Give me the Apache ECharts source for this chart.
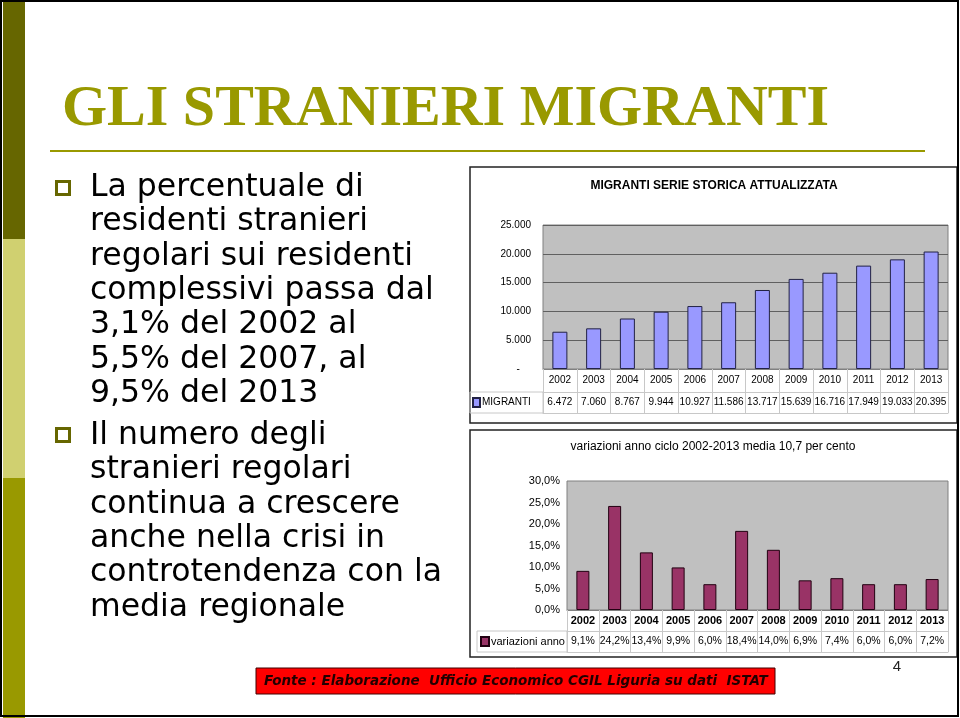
<!DOCTYPE html>
<html><head><meta charset="utf-8">
<script src="https://cdn.jsdelivr.net/npm/echarts@6/dist/echarts.min.js"></script>
<style>html,body{margin:0;padding:0;background:#fff}#c{width:960px;height:718px}</style>
</head><body><div id="c"></div>
<script>
var years = ['2002','2003','2004','2005','2006','2007','2008','2009','2010','2011','2012','2013'];
var migranti = [6472, 7060, 8767, 9944, 10927, 11586, 13717, 15639, 16716, 17949, 19033, 20395];
var variazioni = [9.1, 24.2, 13.4, 9.9, 6.0, 18.4, 14.0, 6.9, 7.4, 6.0, 6.0, 7.2];
var migrantiTicks = [0, 5000, 10000, 15000, 20000, 25000];
var variazioniTicks = [0, 5, 10, 15, 20, 25, 30];
var slideTitle = 'GLI STRANIERI MIGRANTI';
var bullet1 = ['La percentuale di','residenti stranieri','regolari sui residenti','complessivi passa dal','3,1% del 2002 al','5,5% del 2007, al','9,5% del 2013'];
var bullet2 = ['Il numero degli','stranieri regolari','continua a crescere','anche nella crisi in','controtendenza con la','media regionale'];
var chart1Title = 'MIGRANTI SERIE STORICA ATTUALIZZATA';
var chart2Title = 'variazioni anno ciclo 2002-2013 media 10,7 per cento';
var fonte = 'Fonte : Elaborazione  Ufficio Economico CGIL Liguria su dati  ISTAT';
var pageNum = '4';

function itNum(v){ return String(v).replace(/\B(?=(\d{3})+(?!\d))/g, '.'); }
function itPct(v){ return v.toFixed(1).replace('.', ',') + '%'; }

var SANS = 'Liberation Sans, Arial, sans-serif';
var graphics = [
  {type:'rect', shape:{x:3,y:0,width:22,height:239}, style:{fill:'#666600'}, silent:true},
  {type:'rect', shape:{x:3,y:239,width:22,height:239}, style:{fill:'#d0d070'}, silent:true},
  {type:'rect', shape:{x:3,y:478,width:22,height:240}, style:{fill:'#999900'}, silent:true},
  {type:'rect', shape:{x:1,y:1,width:957,height:715}, style:{fill:null, stroke:'#000', lineWidth:2}, silent:true},
  {type:'text', x:62, y:110, style:{text:slideTitle, font:'bold 58px "Liberation Serif", serif', fill:'#999900', verticalAlign:'middle'}},
  {type:'line', shape:{x1:50,y1:151,x2:925,y2:151}, style:{stroke:'#999900', lineWidth:2}},
  {type:'rect', shape:{x:56.5,y:181.5,width:13,height:13}, style:{fill:'#fff', stroke:'#666600', lineWidth:3}},
  {type:'rect', shape:{x:56.5,y:428.5,width:13,height:13}, style:{fill:'#fff', stroke:'#666600', lineWidth:3}},
  // chart boxes
  {type:'rect', shape:{x:470,y:167,width:487,height:256}, style:{fill:null, stroke:'#222', lineWidth:1.5}, z:-1},
  {type:'rect', shape:{x:470,y:430,width:487,height:227}, style:{fill:null, stroke:'#222', lineWidth:1.5}, z:-1},
  {type:'text', x:714, y:186, style:{text:chart1Title, font:'bold 12px '+SANS, fill:'#000', align:'center', verticalAlign:'middle'}},
  {type:'text', x:713, y:447, style:{text:chart2Title, font:'12px '+SANS, fill:'#000', align:'center', verticalAlign:'middle'}},
  // legend cells of data tables
  {type:'rect', shape:{x:470,y:392,width:73,height:21}, style:{fill:null, stroke:'#c8c8c8', lineWidth:1}},
  {type:'rect', shape:{x:477,y:631,width:90,height:21}, style:{fill:null, stroke:'#c8c8c8', lineWidth:1}},
  // footer
  {type:'rect', shape:{x:256,y:668,width:519,height:26}, style:{fill:'#ff0000', stroke:'#400000', lineWidth:1}},
  {type:'text', x:264, y:681, style:{text:fonte, font:'italic bold 13.5px "DejaVu Sans", sans-serif', fill:'#220000', verticalAlign:'middle'}},
  {type:'text', x:897, y:667, style:{text:pageNum, font:'15px '+SANS, fill:'#222', align:'center', verticalAlign:'middle'}}
];
bullet1.forEach(function(t,i){ graphics.push({type:'text', x:90, y:188+34.3*i, style:{text:t, font:'31.5px "DejaVu Sans", sans-serif', fill:'#000', verticalAlign:'middle'}}); });
bullet2.forEach(function(t,i){ graphics.push({type:'text', x:90, y:436+34.3*i, style:{text:t, font:'31.5px "DejaVu Sans", sans-serif', fill:'#000', verticalAlign:'middle'}}); });

var ch = echarts.init(document.getElementById('c'), null, {renderer:'canvas'});
ch.setOption({
  animation:false,
  backgroundColor:'#fff',
  textStyle:{fontFamily:SANS},
  graphic:graphics,
  legend:[
    {data:['MIGRANTI'], left:472, top:397, orient:'horizontal', icon:'rect', itemWidth:7, itemHeight:9, itemGap:2, selectedMode:false, padding:0, textStyle:{fontSize:10, color:'#000', padding:[0,0,0,-3]}},
    {data:['variazioni anno'], left:480, top:636, orient:'horizontal', icon:'rect', itemWidth:8, itemHeight:9, selectedMode:false, padding:0, textStyle:{fontSize:11, color:'#000', padding:[0,0,0,-3]}}
  ],
  grid:[
    {left:543, top:225, width:405, height:144, show:true, backgroundColor:'#c0c0c0', borderColor:'#808080', borderWidth:1},
    {left:567, top:481, width:381, height:129, show:true, backgroundColor:'#c0c0c0', borderColor:'#808080', borderWidth:1}
  ],
  xAxis:[
    {gridIndex:0, type:'category', data:years, position:'bottom',
     axisLine:{lineStyle:{color:'#808080'}}, axisTick:{show:true, interval:0, length:44, lineStyle:{color:'#c8c8c8'}},
     axisLabel:{interval:0, fontSize:10, color:'#000', margin:6}},
    {gridIndex:0, type:'category', data:years, position:'bottom', offset:23,
     axisLine:{lineStyle:{color:'#c8c8c8'}}, axisTick:{show:false},
     axisLabel:{interval:0, fontSize:10, color:'#000', margin:5, formatter:function(v,i){return itNum(migranti[i]);}}},
    {gridIndex:0, type:'category', data:years, position:'bottom', offset:44,
     axisLine:{lineStyle:{color:'#c8c8c8'}}, axisTick:{show:false}, axisLabel:{show:false}},
    {gridIndex:1, type:'category', data:years, position:'bottom',
     axisLine:{lineStyle:{color:'#808080'}}, axisTick:{show:true, interval:0, length:42, lineStyle:{color:'#c8c8c8'}},
     axisLabel:{interval:0, fontSize:11, fontWeight:'bold', color:'#000', margin:5}},
    {gridIndex:1, type:'category', data:years, position:'bottom', offset:21,
     axisLine:{lineStyle:{color:'#c8c8c8'}}, axisTick:{show:false},
     axisLabel:{interval:0, fontSize:10.5, color:'#000', margin:5, formatter:function(v,i){return itPct(variazioni[i]);}}},
    {gridIndex:1, type:'category', data:years, position:'bottom', offset:42,
     axisLine:{lineStyle:{color:'#c8c8c8'}}, axisTick:{show:false}, axisLabel:{show:false}}
  ],
  yAxis:[
    {gridIndex:0, type:'value', min:migrantiTicks[0], max:migrantiTicks[migrantiTicks.length-1], interval:migrantiTicks[1]-migrantiTicks[0],
     axisLine:{show:false}, axisTick:{show:false},
     splitLine:{show:true, lineStyle:{color:'#606060', width:1}},
     axisLabel:{fontSize:10, color:'#000', margin:12, formatter:function(v){return v===0 ? '-    ' : itNum(v);}}},
    {gridIndex:1, type:'value', min:variazioniTicks[0], max:variazioniTicks[variazioniTicks.length-1], interval:variazioniTicks[1]-variazioniTicks[0],
     axisLine:{show:false}, axisTick:{show:false}, splitLine:{show:false},
     axisLabel:{fontSize:11, color:'#000', margin:7, formatter:function(v){return itPct(v);}}}
  ],
  series:[
    {name:'MIGRANTI', type:'bar', xAxisIndex:0, yAxisIndex:0, data:migranti, barWidth:15,
     itemStyle:{color:'#9999ff', borderColor:'#222244', borderWidth:1}},
    {name:'variazioni anno', type:'bar', xAxisIndex:3, yAxisIndex:1, data:variazioni, barWidth:13,
     itemStyle:{color:'#993366', borderColor:'#220011', borderWidth:1}}
  ]
});
</script></body></html>
